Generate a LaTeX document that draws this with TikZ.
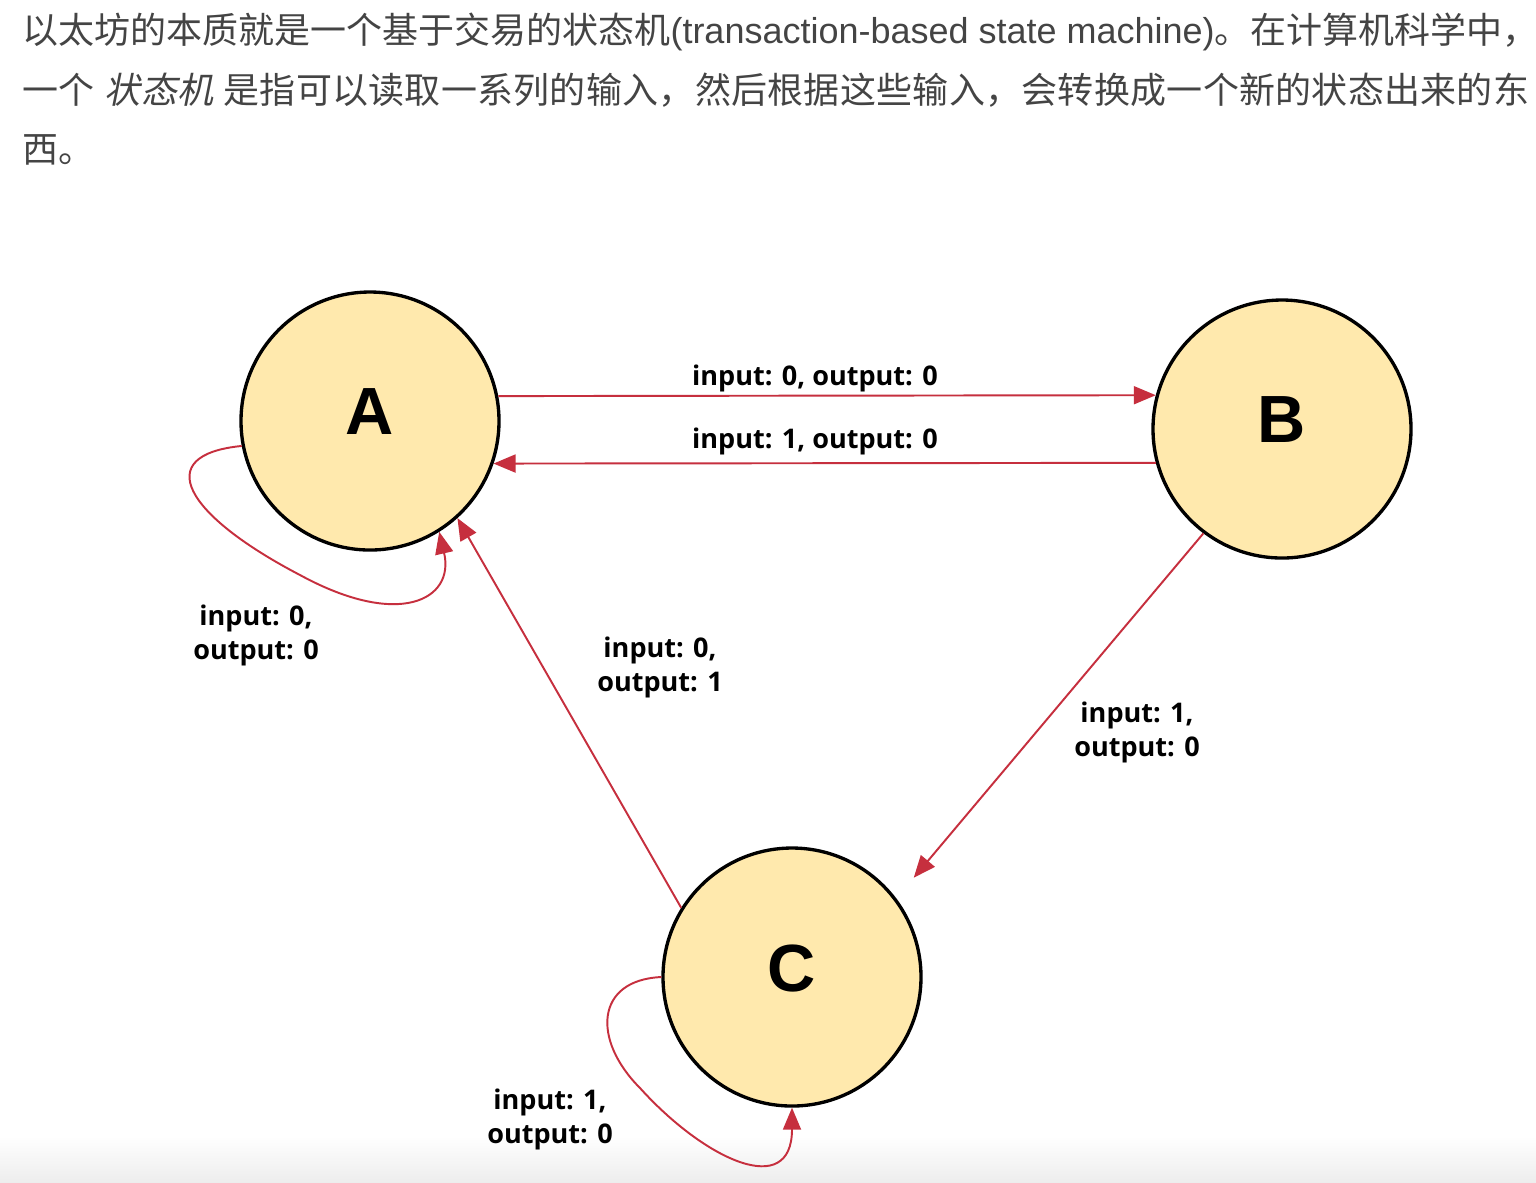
\documentclass[tikz,border=0pt]{standalone}
\usepackage{fontspec}
\usetikzlibrary{arrows.meta}
\setmainfont{Liberation Sans}
\newfontfamily\cjk{Noto Sans CJK SC}
\newfontfamily\cjkwide{Noto Sans CJK SC}[LetterSpace=0.8]
\newfontfamily\cjkitwide{Noto Sans CJK SC}[FakeSlant=0.2,LetterSpace=0.8]
\newfontfamily\lblfont{Open Sans}
\definecolor{txtgray}{HTML}{444444}
\definecolor{statefill}{HTML}{FFE9AD}
\definecolor{edgered}{HTML}{C62F3E}
\tikzset{
  statenode/.style={circle, draw=black, line width=0.95pt, fill=statefill,
    minimum size=2.58cm, inner sep=0pt},
  statelabel/.style={font=\fontsize{19pt}{22pt}\selectfont\bfseries, yshift=0.09cm},
  edge/.style={draw=edgered, line width=0.55pt,
    -{Triangle[length=0.22cm,width=0.18cm]}},
  elabel/.style={font=\lblfont\bfseries\fontsize{7.7pt}{9.67pt}\selectfont,
    align=center, inner sep=0pt, text=black},
  headline/.style={anchor=base west, inner sep=0pt, text=txtgray,
    font=\fontsize{10.24pt}{12pt}\selectfont}
}
\begin{document}
\begin{tikzpicture}
\useasboundingbox (0,0) rectangle (15.36,-11.82);
\fill[white] (0,0) rectangle (15.36,-11.82);
\shade[top color=white, bottom color=black!7] (0,-11.36) rectangle (15.36,-11.82);

% header text
\node[headline] (h1) at (0.22,-0.43) {{\cjk 以太坊的本质就是一个基于交易的状态机}(transaction-based state machine){\cjk 。在计算机科学中，}};
\node[headline] (h2) at (0.22,-1.03) {{\cjkwide 一个}\ {\cjkitwide 状态机}\ {\cjkwide 是指可以读取一系列的输入，然后根据这些输入，会转换成一个新的状态出来的东}};
\node[headline] (h3) at (0.22,-1.62) {\cjk 西。};

% states
\node[statenode, label={[statelabel]center:A}] (A) at (3.70,-4.21) {};
\node[statenode, label={[statelabel]center:B}] (B) at (12.82,-4.29) {};
\node[statenode, label={[statelabel]center:C}] (C) at (7.92,-9.77) {};

% edges
\draw[edge] (A.11) -- (B.165);
\draw[edge] (B.195) -- (A.341.5);
\draw[edge, shorten >=0.27cm] (B.233) -- (C.37);
\draw[edge] (C.148) -- (A.312);
\draw[edge] (A.191) .. controls (1.50,-4.55) and (1.85,-5.15) .. (3.00,-5.75)
  .. controls (3.99,-6.29) and (4.55,-6.00) .. (A.302);
\draw[edge] (C.180) .. controls (5.95,-9.80) and (5.92,-10.40) .. (6.40,-10.88)
  .. controls (7.05,-11.60) and (7.92,-12.00) .. (C.270);

% edge labels
\node[elabel] (lab) at (8.15,-3.78) {input: 0, output: 0};
\node[elabel] (lba) at (8.15,-4.41) {input: 1, output: 0};
\node[elabel] (laa) at (2.56,-6.35) {input: 0,\\output: 0};
\node[elabel] (lca) at (6.60,-6.67) {input: 0,\\output: 1};
\node[elabel] (lbc) at (11.37,-7.32) {input: 1,\\output: 0};
\node[elabel] (lcc) at (5.50,-11.19) {input: 1,\\output: 0};
\end{tikzpicture}
\end{document}
